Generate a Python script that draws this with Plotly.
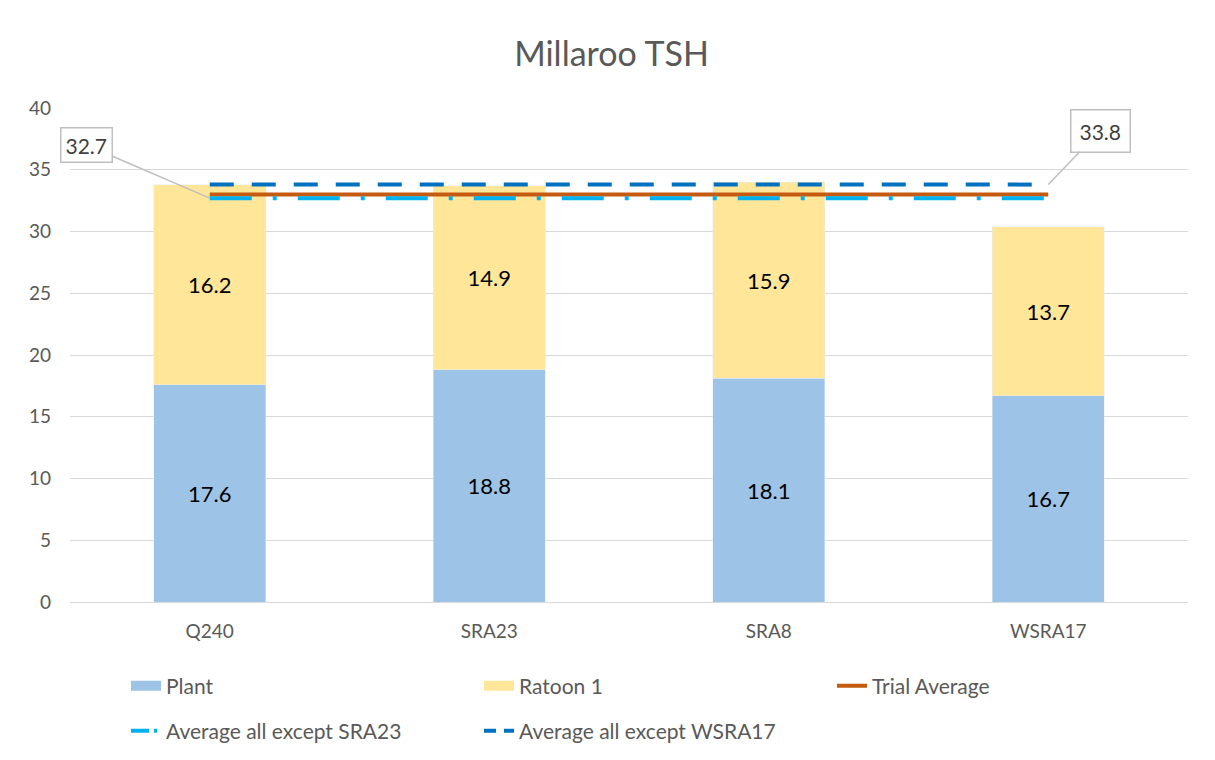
import plotly.graph_objects as go

categories = ["Q240", "SRA23", "SRA8", "WSRA17"]
plant = [17.6, 18.8, 18.1, 16.7]
ratoon1 = [16.2, 14.9, 15.9, 13.7]
trial_average = [33.0, 33.0, 33.0, 33.0]
avg_except_sra23 = [32.7, 32.7, 32.7, 32.7]
avg_except_wsra17 = [33.8, 33.8, 33.8, 33.8]

FONT = "Lato"
# the page body has an 8px margin, so the figure is sized/offset to compensate
W, H = 1207, 752
ml, mr, mt, mb = 62, 27, 100, 158
pw = W - ml - mr
ph = H - mt - mb

PLANT_C = "#9DC3E6"
RAT_C = "#FFE699"
TA_C = "#C55A11"
SRA_C = "#00B0F0"
WS_C = "#0070C0"
DASH_SRA = "42px,21px,4px,21px"
DASH_WS = "24px,18px"

fig = go.Figure()
fig.add_trace(go.Bar(x=categories, y=plant, name="Plant", marker_color=PLANT_C, showlegend=False,
                     text=[f"{v:.1f}" for v in plant], textposition="inside",
                     insidetextanchor="middle", textfont=dict(color="black", size=22, family=FONT)))
fig.add_trace(go.Bar(x=categories, y=ratoon1, name="Ratoon 1", marker_color=RAT_C, showlegend=False,
                     text=[f"{v:.1f}" for v in ratoon1], textposition="inside",
                     insidetextanchor="middle", textfont=dict(color="black", size=22, family=FONT)))
fig.add_trace(go.Scatter(x=categories, y=trial_average, name="Trial Average", mode="lines",
                         line=dict(color=TA_C, width=4), showlegend=False))
fig.add_trace(go.Scatter(x=categories, y=avg_except_sra23, name="Average all except SRA23", mode="lines",
                         line=dict(color=SRA_C, width=4, dash=DASH_SRA), showlegend=False))
fig.add_trace(go.Scatter(x=categories, y=avg_except_wsra17, name="Average all except WSRA17", mode="lines",
                         line=dict(color=WS_C, width=4, dash=DASH_WS), showlegend=False))

# legend entries (two rows)
fig.add_trace(go.Scatter(x=[None], y=[None], mode="lines", name="Plant",
                         line=dict(color=PLANT_C, width=16), legend="legend"))
fig.add_trace(go.Scatter(x=[None], y=[None], mode="lines", name="Ratoon 1",
                         line=dict(color=RAT_C, width=16), legend="legend"))
fig.add_trace(go.Scatter(x=[None], y=[None], mode="lines", name="Trial Average",
                         line=dict(color=TA_C, width=4), legend="legend"))
fig.add_trace(go.Scatter(x=[None], y=[None], mode="lines", name="Average all except SRA23",
                         line=dict(color=SRA_C, width=4, dash="18px,5px,3px,5px"), legend="legend2"))
fig.add_trace(go.Scatter(x=[None], y=[None], mode="lines", name="Average all except WSRA17",
                         line=dict(color=WS_C, width=4, dash="12px,8px"), legend="legend2"))

# callouts
fig.add_annotation(x=categories[0], y=avg_except_sra23[0], text="32.7", showarrow=True,
                   arrowhead=0, arrowwidth=1.5, arrowcolor="#BFBFBF", ax=-123, ay=-53,
                   bordercolor="#BFBFBF", borderwidth=1.5, borderpad=4, bgcolor="white",
                   font=dict(size=21, color="#404040", family=FONT))
fig.add_annotation(x=categories[-1], y=avg_except_wsra17[-1], text="33.8", showarrow=True,
                   arrowhead=0, arrowwidth=1.5, arrowcolor="#BFBFBF", ax=52, ay=-54,
                   bordercolor="#BFBFBF", borderwidth=1.5, borderpad=8, bgcolor="white",
                   font=dict(size=21, color="#404040", family=FONT))

leg_common = dict(orientation="h", xanchor="left", yanchor="middle",
                  entrywidth=308, entrywidthmode="pixels", traceorder="normal",
                  font=dict(size=21, color="#595959", family=FONT), bgcolor="rgba(0,0,0,0)")

fig.update_layout(
    width=W, height=H,
    barmode="stack", bargap=0.6,
    plot_bgcolor="white", paper_bgcolor="white",
    margin=dict(l=ml, r=mr, t=mt, b=mb, autoexpand=False),
    title=dict(text="Millaroo TSH", x=0.5, xanchor="center", y=1 - 46 / H, yanchor="middle",
               font=dict(size=34, color="#595959", family=FONT)),
    font=dict(family=FONT, color="#595959", size=19),
    xaxis=dict(range=[-0.5, len(categories) - 0.5], autorange=False,
               showgrid=False, showline=True, linecolor="#D9D9D9", linewidth=1, automargin=False,
               ticks="", tickfont=dict(size=19, color="#595959"), ticklabelstandoff=12),
    yaxis=dict(range=[0, 40], dtick=5, showgrid=True, gridcolor="#D9D9D9", gridwidth=1, automargin=False,
               zeroline=False, showline=False, ticks="", ticklabelstandoff=18,
               tickfont=dict(size=19, color="#595959")),
    legend=dict(x=(118 - ml) / pw, y=(594 - 678) / ph, **leg_common),
    legend2=dict(x=(118 - ml) / pw, y=(594 - 723) / ph, **leg_common),
    showlegend=True,
)

fig.write_html("out.html")
